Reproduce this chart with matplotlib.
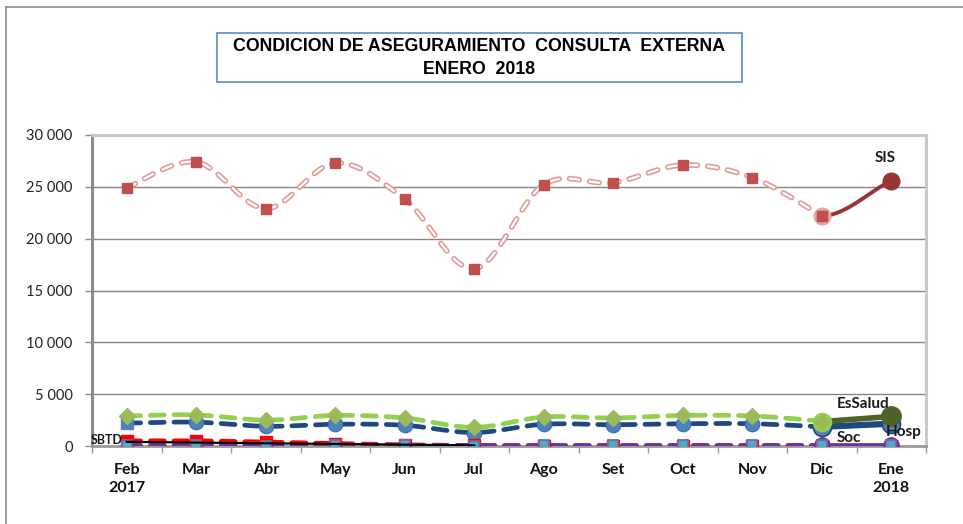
import numpy as np
import matplotlib
matplotlib.use("Agg")
import matplotlib.pyplot as plt
from matplotlib.lines import Line2D
from matplotlib.patches import Rectangle

plt.rcParams['lines.scale_dashes'] = False

# ---------------- data ----------------
months = ["Feb\n2017", "Mar", "Abr", "May", "Jun", "Jul", "Ago", "Set", "Oct", "Nov", "Dic", "Ene\n2018"]
# 2017 series, Feb..Dic (dashed)
sis_2017 = [24900, 27400, 22900, 27300, 23800, 17100, 25200, 25400, 27100, 25900, 22200]
essalud_2017 = [2900, 3000, 2500, 2950, 2700, 1800, 2800, 2700, 2950, 2900, 2400]
hosp_2017 = [2200, 2300, 1900, 2100, 2000, 1300, 2100, 2050, 2150, 2150, 1850]
otros_2017 = [500, 500, 380, 230, 110, 50, 30, 20, 20, 20, 20]
soc_2017 = [60, 60, 40, 50, 50, 40, 50, 50, 50, 50, 60]
sbtd_2017 = [400, 330, 260, 200, 130, 60]          # Feb..Jul
# Dic 2017 -> Ene 2018 (solid)
sis_cmp = [22200, 25600]
essalud_cmp = [2350, 2850]
hosp_cmp = [1850, 2150]
soc_cmp = [60, 60]
otros_cmp = [10, 10]

title = "CONDICION DE ASEGURAMIENTO  CONSULTA  EXTERNA\nENERO  2018"
yticks = [0, 5000, 10000, 15000, 20000, 25000, 30000]


def smooth(xs, ys, n=24):
    """Excel-like smoothed line (Catmull-Rom Bezier)."""
    P = np.column_stack([xs, ys]).astype(float)
    m = len(P)
    out = []
    for i in range(m - 1):
        p0 = P[i - 1] if i > 0 else P[i]
        p1, p2 = P[i], P[i + 1]
        p3 = P[i + 2] if i + 2 < m else P[i + 1]
        c1 = p1 + (p2 - p0) / 6
        c2 = p2 - (p3 - p1) / 6
        t = np.linspace(0, 1, n)[:, None]
        seg = ((1 - t) ** 3) * p1 + 3 * ((1 - t) ** 2) * t * c1 + 3 * (1 - t) * t ** 2 * c2 + t ** 3 * p2
        out.append(seg if i == 0 else seg[1:])
    s = np.vstack(out)
    return s[:, 0], s[:, 1]


def ease_curve(xs, ys, n=40):
    p1 = np.array([xs[0], ys[0]], float)
    p2 = np.array([xs[1], ys[1]], float)
    d = p2 - p1
    c1 = p1 + np.array([d[0] / 3, 0])
    c2 = p2 - d / 3
    t = np.linspace(0, 1, n)[:, None]
    s = ((1 - t) ** 3) * p1 + 3 * ((1 - t) ** 2) * t * c1 + 3 * (1 - t) * t ** 2 * c2 + t ** 3 * p2
    return s[:, 0], s[:, 1]


W, H = 963, 524
fig = plt.figure(figsize=(W / 100, H / 100), dpi=100)
fig.patch.set_facecolor("white")

# outer chart frame (partially visible)
fig.add_artist(Line2D([6 / W, 1], [1 - 7 / H, 1 - 7 / H], color="#8C8C8C", lw=1.2))
fig.add_artist(Line2D([6 / W, 6 / W], [0, 1 - 7 / H], color="#8C8C8C", lw=1.2))

left, right, top, bottom = 92, 926, 135, 446
ax = fig.add_axes([left / W, 1 - bottom / H, (right - left) / W, (bottom - top) / H])
ax.set_xlim(-0.5, len(months) - 0.5)
ax.set_ylim(0, 30000)

x17 = np.arange(len(sis_2017))
xc = np.array([len(months) - 2, len(months) - 1])

# grid
for v in yticks[1:-1]:
    ax.axhline(v, color="#868686", lw=1.0, zorder=1)

# spines
for s in ["top", "right"]:
    ax.spines[s].set_color("#C8C8C8")
    ax.spines[s].set_linewidth(2.2)
ax.spines["left"].set_color("#8C8C8C")
ax.spines["left"].set_linewidth(2.2)
ax.spines["bottom"].set_color("#9A9A9A")
ax.spines["bottom"].set_linewidth(2.0)

# ---- SIS (outlined dashed) ----
sx, sy = smooth(x17, sis_2017)
ax.plot(sx, sy, color="#E39B9A", lw=4.0, dashes=(7, 7.5), dash_capstyle="round", zorder=3)
ax.plot(sx, sy, color="white", lw=1.6, dashes=(7, 7.5), dash_capstyle="round", zorder=3.1)
ax.plot(x17, sis_2017, ls="none", marker="s", ms=7.5, mfc="#C0504D", mec="#C0504D", zorder=3.3)

# ---- Hosp ----
hx, hy = smooth(x17, hosp_2017)
ax.plot(hx, hy, color="#1F497D", lw=3.4, dashes=(10, 7), dash_capstyle="round", zorder=4)
ax.plot(x17[1:], hosp_2017[1:], ls="none", marker="o", ms=10.5, mfc="#4F81BD", mec="#3A6DAE",
        mew=0.8, zorder=4.2)
ax.plot(x17[:1], hosp_2017[:1], ls="none", marker="s", ms=8, mfc="#4F81BD", mec="#4F81BD", zorder=4.2)

# ---- EsSalud ----
ex, ey = smooth(x17, essalud_2017)
ax.plot(ex, ey, color="#92D050", lw=3.4, dashes=(10, 7), dash_capstyle="round", zorder=5)
ax.plot(x17, essalud_2017, ls="none", marker="D", ms=8, mfc="#9BBB59", mec="#9BBB59", zorder=5.2)

# ---- otros (red) ----
ox, oy = smooth(x17, otros_2017)
ax.plot(ox, oy, color="#FF0000", lw=3.4, dashes=(10, 7), dash_capstyle="round", zorder=6)
ax.plot(x17, otros_2017, ls="none", marker="s", ms=8.5, mfc="#FF0000", mec="#FF0000", zorder=6.1)
ax.plot(xc, otros_cmp, ls="none", marker="s", ms=8.5, mfc="#FF0000", mec="#FF0000", zorder=6.1)

# ---- Soc (purple) ----
px, py = smooth(x17, soc_2017)
ax.plot(px, py, color="#7030A0", lw=3.4, dashes=(10, 7), dash_capstyle="round", zorder=7)
ax.plot(x17, soc_2017, ls="none", marker="s", ms=7.5, mfc="#4BACC6", mec="#8064A2", mew=1.3, zorder=7.3)

# ---- SBTD (black thin) ----
ax.plot(np.arange(len(sbtd_2017)), sbtd_2017, color="black", lw=1.6, zorder=8)

# ---- Dic -> Ene comparison ----
cx, cy = ease_curve(xc, sis_cmp)
ax.plot(cx, cy, color="#953735", lw=2.8, solid_capstyle="round", zorder=9)
ax.plot(xc[:1], sis_cmp[:1], ls="none", marker="o", ms=12, mfc="#E6A3A2", mec="#E6A3A2", zorder=9.1)
ax.plot(xc[:1], sis_cmp[:1], ls="none", marker="s", ms=7.5, mfc="#C0504D", mec="#C0504D", zorder=9.2)
ax.plot(xc[1:], sis_cmp[1:], ls="none", marker="o", ms=12, mfc="#953735", mec="#953735", zorder=9.2)

ax.plot(xc, hosp_cmp, color="#1F497D", lw=4.5, zorder=9)
ax.plot(xc, hosp_cmp, ls="none", marker="o", ms=13, mfc="#4F81BD", mec="#1F497D", mew=1.2, zorder=9.1)

ax.plot(xc, essalud_cmp, color="#4F6228", lw=4.0, zorder=9.3)
ax.plot(xc[:1], essalud_cmp[:1], ls="none", marker="o", ms=13, mfc="#92D050", mec="#92D050", zorder=9.4)
ax.plot(xc[:1], essalud_cmp[:1], ls="none", marker="D", ms=8, mfc="#9BBB59", mec="#9BBB59", zorder=9.5)
ax.plot(xc[1:], essalud_cmp[1:], ls="none", marker="o", ms=14, mfc="#4F6228", mec="#4F6228", zorder=9.4)

ax.plot(xc, soc_cmp, color="#7030A0", lw=3.4, zorder=9.6)
ax.plot(xc, soc_cmp, ls="none", marker="o", ms=11, mfc="#7030A0", mec="#7030A0", zorder=9.7)
ax.plot(xc, soc_cmp, ls="none", marker="s", ms=7.5, mfc="#4BACC6", mec="#8064A2", mew=1.3, zorder=9.8)

# ---- labels ----
lab = dict(fontfamily="Lato", fontweight="bold", fontsize=11, color="#1A1A1A", zorder=11)
ax.text(10.92, 27800, "SIS", ha="center", va="center", **lab)
ax.text(10.59, 4050, "EsSalud", ha="center", va="center", **lab)
ax.text(11.18, 1350, "Hosp", ha="center", va="center", **lab)
ax.text(10.39, 770, "Soc", ha="center", va="center", **lab)
ax.text(-0.06, 580, "SBTD", ha="right", va="center", fontfamily="Lato", fontweight="bold",
        fontsize=9, color="#1A1A1A", zorder=11)

# ---- ticks ----
ax.set_yticks(yticks)
ax.set_yticklabels([f"{v:,}".replace(",", " ") for v in yticks], fontfamily="Lato", fontsize=10.5,
                   color="#222222")
ax.tick_params(axis="y", direction="out", length=5, width=1, color="#8C8C8C", pad=9)
ax.set_xticks(np.arange(len(months)))
ax.set_xticklabels(months, fontfamily="Lato", fontweight="bold", fontsize=11.5, color="#111111",
                   linespacing=1.4)
ax.tick_params(axis="x", length=0, pad=12)
ax.set_xticks(np.arange(len(months) + 1) - 0.5, minor=True)
ax.tick_params(axis="x", which="minor", direction="out", length=5, width=1, color="#9A9A9A")

# ---- title box ----
fig.add_artist(Rectangle((217 / W, 1 - 82 / H), (742 - 217) / W, (82 - 33) / H,
                         transform=fig.transFigure, fill=True, facecolor="white",
                         edgecolor="#4F81BD", lw=1.1))
fig.text((217 + 742) / 2 / W, 1 - 58 / H, title, ha="center", va="center",
         fontfamily="Liberation Sans", fontweight="bold", fontsize=12.8, linespacing=1.4,
         color="black")

fig.savefig("out.png", dpi=100, facecolor="white")
